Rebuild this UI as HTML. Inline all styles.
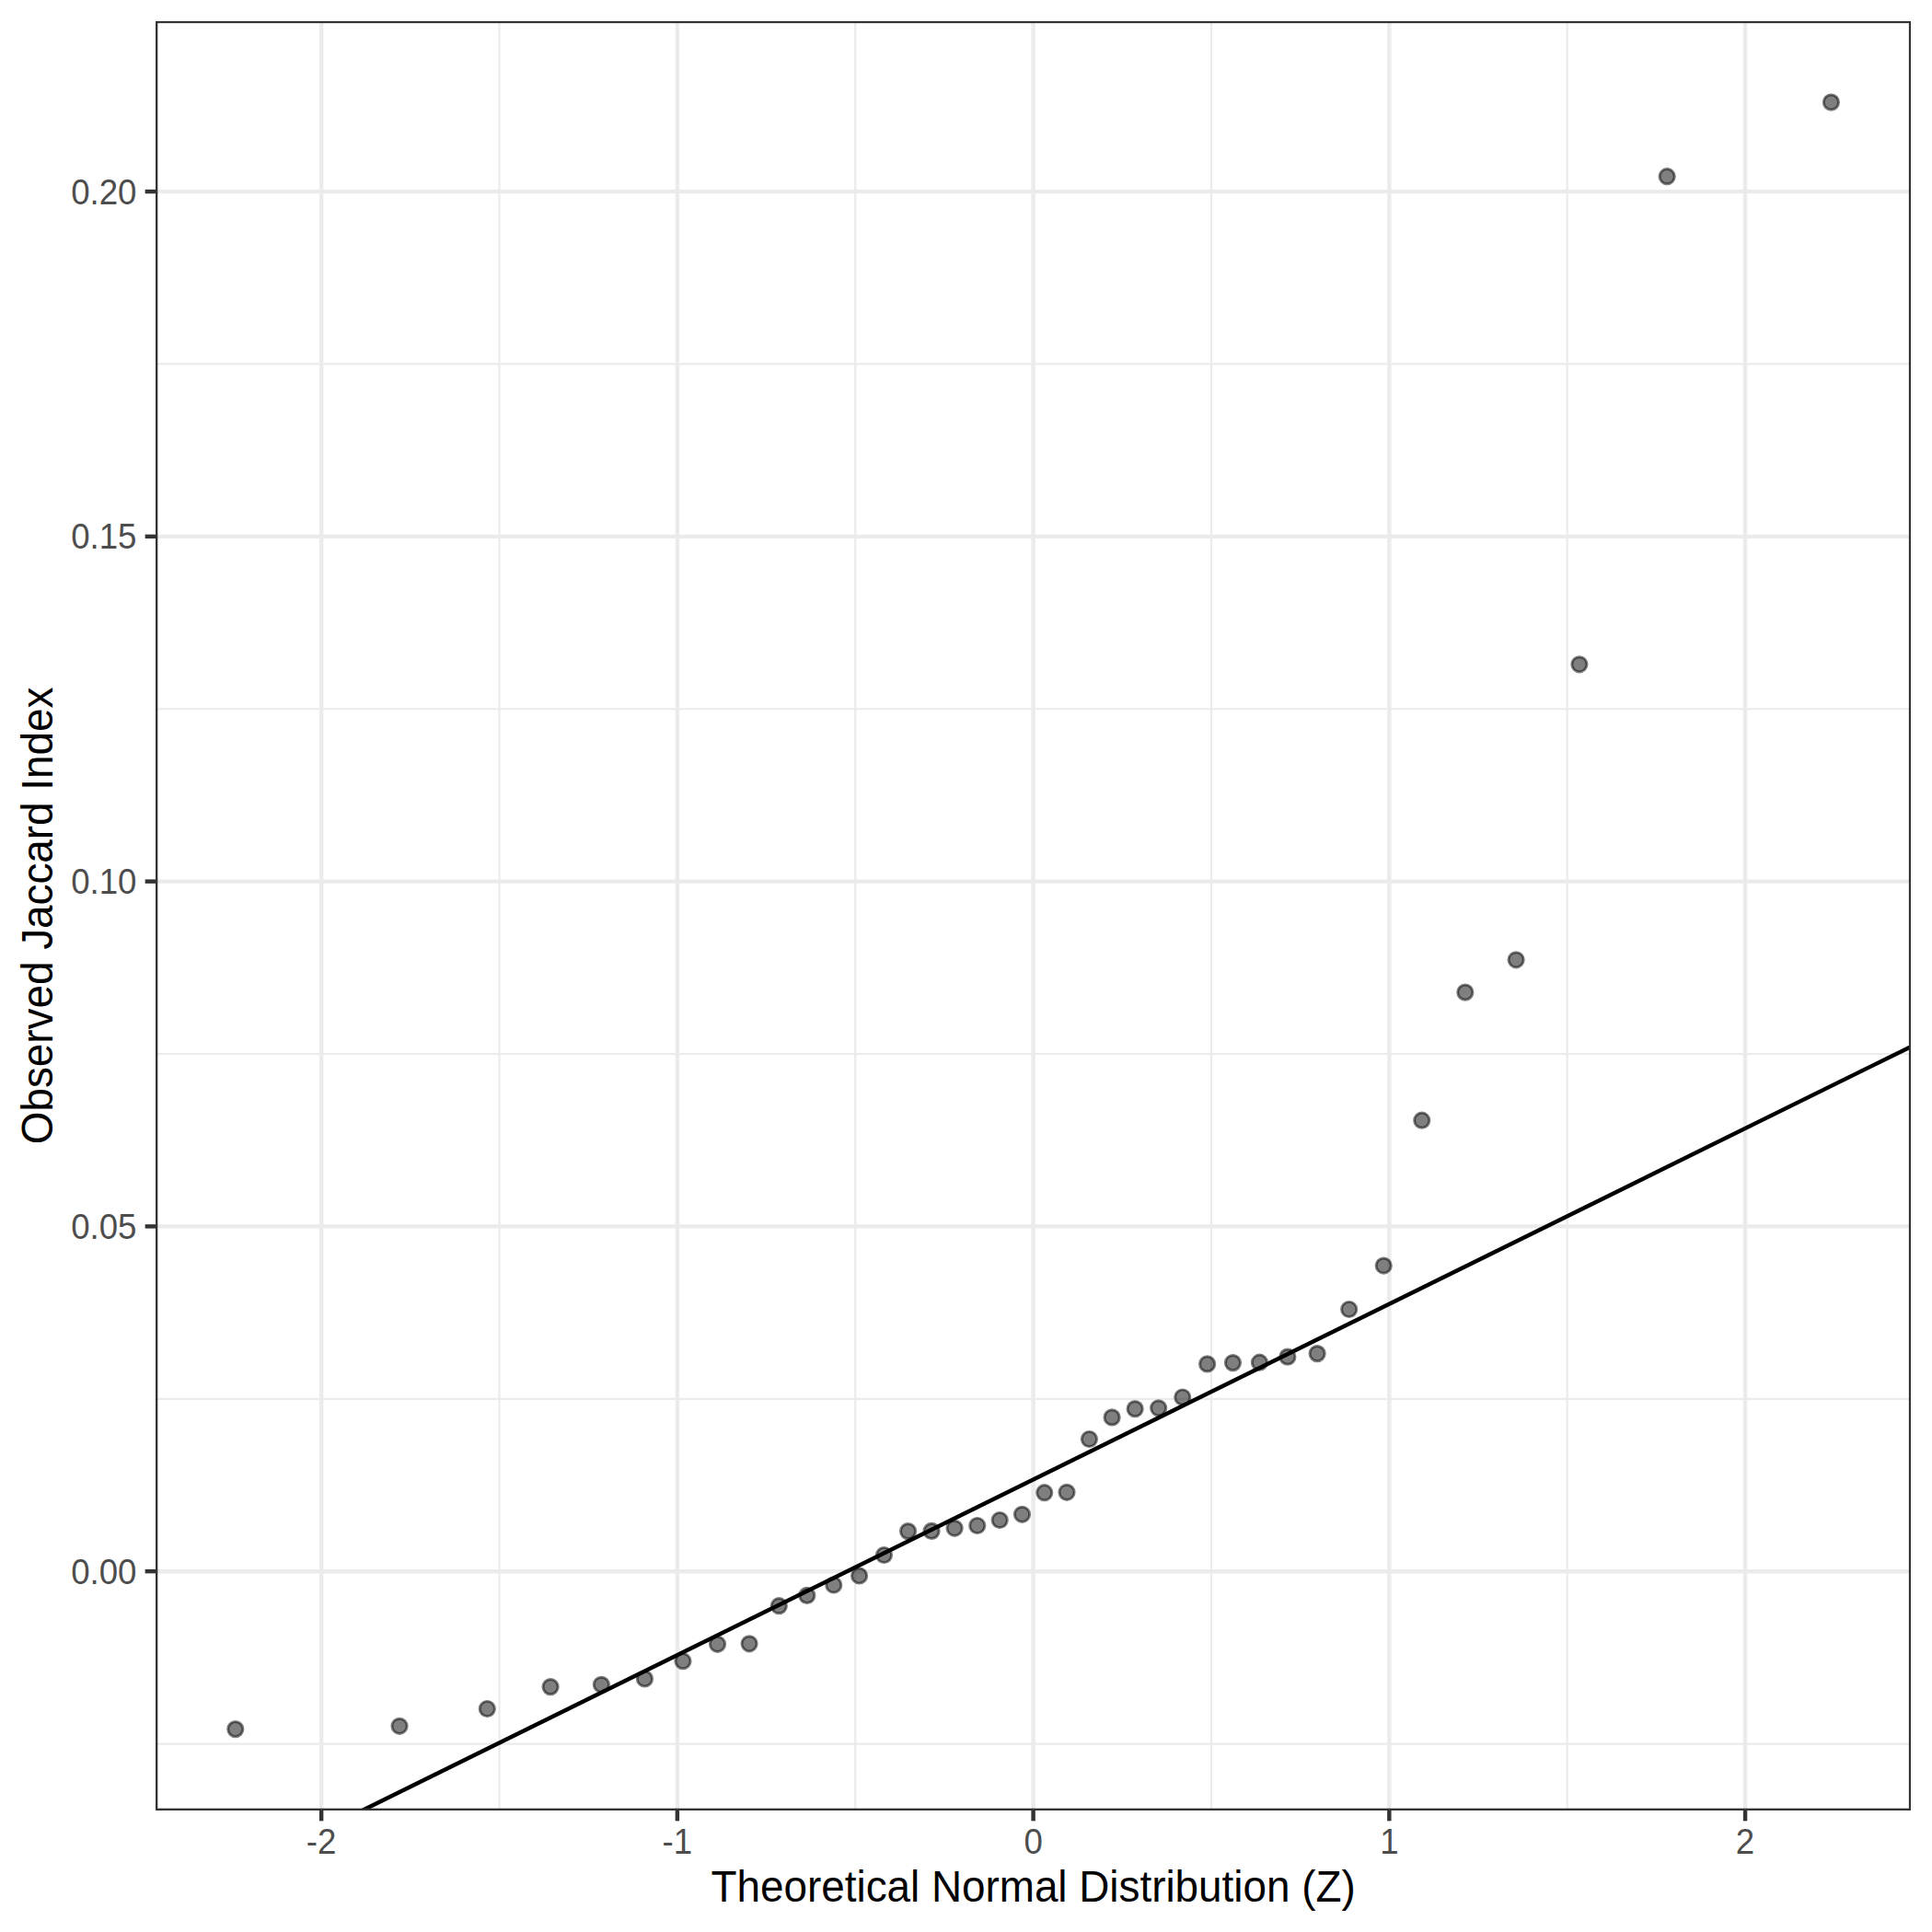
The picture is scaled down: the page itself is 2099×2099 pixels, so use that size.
<!DOCTYPE html>
<html lang="en"><head><meta charset="utf-8"><title>Q-Q plot</title>
<style>html,body{margin:0;padding:0;background:#fff}svg{display:block}text{font-family:"Liberation Sans",Arial,Helvetica,sans-serif}</style></head><body>
<svg width="2099" height="2099" viewBox="0 0 2099 2099">
<rect width="2099" height="2099" fill="#fff"/>
<defs><clipPath id="pc"><rect x="169.1" y="22.92" width="1907.00" height="1943.98"/></clipPath></defs>
<g clip-path="url(#pc)">
<g stroke="#EBEBEB" stroke-width="2.22" fill="none">
<line x1="169.1" x2="2076.1" y1="1894.53" y2="1894.53"/>
<line x1="169.1" x2="2076.1" y1="1519.77" y2="1519.77"/>
<line x1="169.1" x2="2076.1" y1="1145.01" y2="1145.01"/>
<line x1="169.1" x2="2076.1" y1="770.24" y2="770.24"/>
<line x1="169.1" x2="2076.1" y1="395.48" y2="395.48"/>
<line y1="22.92" y2="1966.9" x1="542.50" x2="542.50"/>
<line y1="22.92" y2="1966.9" x1="929.23" x2="929.23"/>
<line y1="22.92" y2="1966.9" x1="1315.97" x2="1315.97"/>
<line y1="22.92" y2="1966.9" x1="1702.70" x2="1702.70"/>
</g>
<g stroke="#EBEBEB" stroke-width="4.45" fill="none">
<line x1="169.1" x2="2076.1" y1="1707.15" y2="1707.15"/>
<line x1="169.1" x2="2076.1" y1="1332.39" y2="1332.39"/>
<line x1="169.1" x2="2076.1" y1="957.62" y2="957.62"/>
<line x1="169.1" x2="2076.1" y1="582.86" y2="582.86"/>
<line x1="169.1" x2="2076.1" y1="208.10" y2="208.10"/>
<line y1="22.92" y2="1966.9" x1="349.14" x2="349.14"/>
<line y1="22.92" y2="1966.9" x1="735.87" x2="735.87"/>
<line y1="22.92" y2="1966.9" x1="1122.60" x2="1122.60"/>
<line y1="22.92" y2="1966.9" x1="1509.33" x2="1509.33"/>
<line y1="22.92" y2="1966.9" x1="1896.06" x2="1896.06"/>
</g>
<g fill="#000" fill-opacity="0.5" stroke="#000" stroke-opacity="0.5" stroke-width="2.95">
<circle cx="255.78" cy="1878.60" r="8.14"/>
<circle cx="434.04" cy="1875.30" r="8.14"/>
<circle cx="529.31" cy="1856.50" r="8.14"/>
<circle cx="598.07" cy="1832.65" r="8.14"/>
<circle cx="653.36" cy="1830.30" r="8.14"/>
<circle cx="700.44" cy="1823.90" r="8.14"/>
<circle cx="741.97" cy="1804.70" r="8.14"/>
<circle cx="779.51" cy="1786.30" r="8.14"/>
<circle cx="814.08" cy="1785.80" r="8.14"/>
<circle cx="846.33" cy="1744.70" r="8.14"/>
<circle cx="876.77" cy="1733.40" r="8.14"/>
<circle cx="905.76" cy="1722.00" r="8.14"/>
<circle cx="933.58" cy="1712.00" r="8.14"/>
<circle cx="960.45" cy="1689.50" r="8.14"/>
<circle cx="986.55" cy="1663.60" r="8.14"/>
<circle cx="1012.06" cy="1663.40" r="8.14"/>
<circle cx="1037.09" cy="1660.30" r="8.14"/>
<circle cx="1061.76" cy="1657.50" r="8.14"/>
<circle cx="1086.19" cy="1651.50" r="8.14"/>
<circle cx="1110.48" cy="1645.30" r="8.14"/>
<circle cx="1134.72" cy="1621.70" r="8.14"/>
<circle cx="1159.01" cy="1621.30" r="8.14"/>
<circle cx="1183.44" cy="1563.50" r="8.14"/>
<circle cx="1208.11" cy="1539.90" r="8.14"/>
<circle cx="1233.14" cy="1530.65" r="8.14"/>
<circle cx="1258.65" cy="1529.80" r="8.14"/>
<circle cx="1284.75" cy="1518.00" r="8.14"/>
<circle cx="1311.62" cy="1481.90" r="8.14"/>
<circle cx="1339.44" cy="1480.60" r="8.14"/>
<circle cx="1368.43" cy="1480.20" r="8.14"/>
<circle cx="1398.87" cy="1474.15" r="8.14"/>
<circle cx="1431.12" cy="1470.60" r="8.14"/>
<circle cx="1465.69" cy="1422.50" r="8.14"/>
<circle cx="1503.23" cy="1375.05" r="8.14"/>
<circle cx="1544.76" cy="1217.20" r="8.14"/>
<circle cx="1591.84" cy="1078.10" r="8.14"/>
<circle cx="1647.13" cy="1042.80" r="8.14"/>
<circle cx="1715.89" cy="721.80" r="8.14"/>
<circle cx="1811.16" cy="191.70" r="8.14"/>
<circle cx="1989.42" cy="111.10" r="8.14"/>
</g>
<line x1="119.10" y1="2102.33" x2="2126.10" y2="1112.47" stroke="#000" stroke-width="4.45"/>
<rect x="169.1" y="22.92" width="1907.00" height="1943.98" fill="none" stroke="#333333" stroke-width="4.45"/>
</g>
<g stroke="#333333" stroke-width="4.45" fill="none">
<line x1="157.64" x2="169.1" y1="1707.15" y2="1707.15"/>
<line x1="157.64" x2="169.1" y1="1332.39" y2="1332.39"/>
<line x1="157.64" x2="169.1" y1="957.62" y2="957.62"/>
<line x1="157.64" x2="169.1" y1="582.86" y2="582.86"/>
<line x1="157.64" x2="169.1" y1="208.10" y2="208.10"/>
<line y1="1966.9" y2="1978.36" x1="349.14" x2="349.14"/>
<line y1="1966.9" y2="1978.36" x1="735.87" x2="735.87"/>
<line y1="1966.9" y2="1978.36" x1="1122.60" x2="1122.60"/>
<line y1="1966.9" y2="1978.36" x1="1509.33" x2="1509.33"/>
<line y1="1966.9" y2="1978.36" x1="1896.06" x2="1896.06"/>
</g>
<g fill="#4D4D4D" font-size="36.67px">
<text transform="translate(148.5,1720.75) scale(1,1.035)" text-anchor="end">0.00</text>
<text transform="translate(148.5,1345.99) scale(1,1.035)" text-anchor="end">0.05</text>
<text transform="translate(148.5,971.23) scale(1,1.035)" text-anchor="end">0.10</text>
<text transform="translate(148.5,596.46) scale(1,1.035)" text-anchor="end">0.15</text>
<text transform="translate(148.5,221.70) scale(1,1.035)" text-anchor="end">0.20</text>
<text transform="translate(349.14,2014.0) scale(1,1.035)" text-anchor="middle">-2</text>
<text transform="translate(735.87,2014.0) scale(1,1.035)" text-anchor="middle">-1</text>
<text transform="translate(1122.60,2014.0) scale(1,1.035)" text-anchor="middle">0</text>
<text transform="translate(1509.33,2014.0) scale(1,1.035)" text-anchor="middle">1</text>
<text transform="translate(1896.06,2014.0) scale(1,1.035)" text-anchor="middle">2</text>
</g>
<text transform="translate(1122.60,2066.3) scale(1,1.05)" text-anchor="middle" font-size="45.83px" fill="#000">Theoretical Normal Distribution (Z)</text>
<text transform="translate(56.8,994.91) rotate(-90) scale(1,1.05)" text-anchor="middle" font-size="45.83px" fill="#000">Observed Jaccard Index</text>
</svg></body></html>
